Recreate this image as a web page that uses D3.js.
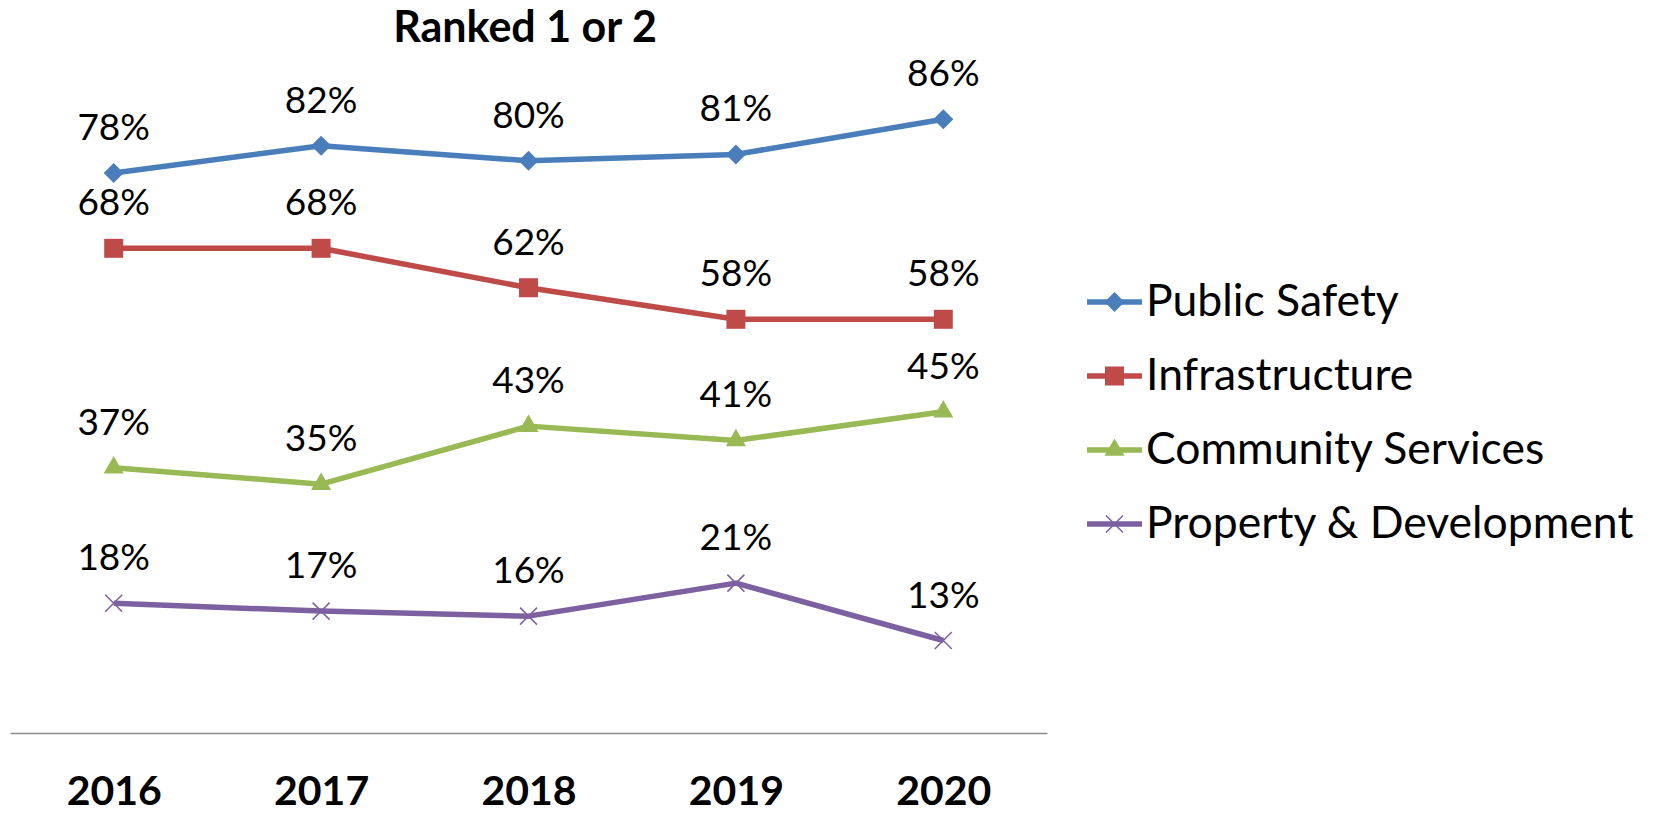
<!DOCTYPE html>
<html>
<head>
<meta charset="utf-8">
<script src="https://cdn.jsdelivr.net/npm/d3@7"></script>
<style>
  html, body { margin: 0; padding: 0; background: #fff; }
  svg { display: block; font-family: Lato, "Open Sans", sans-serif; }
</style>
</head>
<body>
<svg id="chart" width="1653" height="813"></svg>
<script>
// chart data
const years = ['2016', '2017', '2018', '2019', '2020'];
const seriesNames = ['Public Safety', 'Infrastructure', 'Community Services', 'Property & Development'];
const publicSafety = [78.1, 81.9, 79.8, 80.7, 85.6];
const infrastructure = [67.6, 67.6, 62.1, 57.7, 57.7];
const communityServices = [37.0, 34.7, 42.8, 40.8, 44.8];
const propertyDevelopment = [18.1, 17.0, 16.3, 20.9, 12.9];
const seriesColours = ['#4a7ebb', '#be4b48', '#98b954', '#7d60a0'];

const aSeries = [publicSafety, infrastructure, communityServices, propertyDevelopment]
  .map((aValues, i) => ({ sName: seriesNames[i], sColour: seriesColours[i], aValues, iIndex: i }));

const iWidth = 1653;
const iHeight = 813;
const oSvg = d3.select('#chart');

oSvg.append('rect').attr('width', iWidth).attr('height', iHeight).attr('fill', '#fff');

const x = d3.scalePoint().domain(years).range([10, 1047]).padding(0.5);
const y = d3.scaleLinear().domain([0, 100]).range([733, 16]);

// custom marker shapes (excel style)
const symDiamond = {
  draw(ctx, size) {
    const r = Math.sqrt(size) / 2;
    ctx.moveTo(0, -r); ctx.lineTo(r, 0); ctx.lineTo(0, r); ctx.lineTo(-r, 0); ctx.closePath();
  }
};
const symCross = {
  draw(ctx, size) {
    const r = Math.sqrt(size) / 2;
    ctx.moveTo(-r, -r); ctx.lineTo(r, r); ctx.moveTo(-r, r); ctx.lineTo(r, -r);
  }
};
const aMarkers = [
  { type: symDiamond, size: 20 * 20, fill: true },
  { type: d3.symbolSquare, size: 19 * 19, fill: true },
  { type: d3.symbolTriangle, size: 175, fill: true },
  { type: symCross, size: 17 * 17, fill: false }
];

// title
oSvg.append('text')
  .attr('x', 525)
  .attr('y', 42)
  .attr('text-anchor', 'middle')
  .attr('font-weight', 'bold')
  .attr('font-size', 43)
  .text('Ranked 1 or 2');

// x axis
const oAxisG = oSvg.append('g')
  .attr('transform', `translate(0, ${y(0)})`)
  .call(d3.axisBottom(x).tickSize(0).tickSizeOuter(0));
oAxisG.select('.domain').attr('stroke', '#8c8c8c').attr('stroke-width', 1.5);
oAxisG.selectAll('text')
  .attr('y', 72)
  .attr('dy', 0)
  .attr('fill', '#000')
  .attr('font-family', 'Lato, "Open Sans", sans-serif')
  .attr('font-weight', 'bold')
  .attr('font-size', 41);

// lines, markers and labels
const fnLine = d3.line().x((d, i) => x(years[i])).y(d => y(d));

const oSeriesG = oSvg.selectAll('g.series')
  .data(aSeries)
  .enter()
  .append('g')
  .attr('class', 'series');

oSeriesG.append('path')
  .attr('d', d => fnLine(d.aValues))
  .attr('fill', 'none')
  .attr('stroke', d => d.sColour)
  .attr('stroke-width', 5.5)
  .attr('stroke-linejoin', 'round');

oSeriesG.each(function (s) {
  const m = aMarkers[s.iIndex];
  const g = d3.select(this);
  g.selectAll('path.marker')
    .data(s.aValues)
    .enter()
    .append('path')
    .attr('class', 'marker')
    .attr('transform', (d, i) => `translate(${x(years[i])}, ${y(d)})`)
    .attr('d', d3.symbol().type(m.type).size(m.size))
    .attr('fill', m.fill ? s.sColour : 'none')
    .attr('stroke', m.fill ? 'none' : s.sColour)
    .attr('stroke-width', 1.5);

  g.selectAll('text.label')
    .data(s.aValues)
    .enter()
    .append('text')
    .attr('class', 'label')
    .attr('x', (d, i) => x(years[i]))
    .attr('y', d => y(d) - 33)
    .attr('text-anchor', 'middle')
    .attr('font-size', 37)
    .text(d => `${Math.round(d)}%`);
});

// legend
const oLegendG = oSvg.append('g').attr('transform', 'translate(1087, 302)');
const oLegendItem = oLegendG.selectAll('g')
  .data(aSeries)
  .enter()
  .append('g')
  .attr('transform', (d, i) => `translate(0, ${i * 74})`);

oLegendItem.append('line')
  .attr('x1', 0).attr('x2', 55)
  .attr('stroke', d => d.sColour)
  .attr('stroke-width', 5.5);

oLegendItem.append('path')
  .attr('transform', 'translate(27.5, 0)')
  .attr('d', d => d3.symbol().type(aMarkers[d.iIndex].type).size(aMarkers[d.iIndex].size)())
  .attr('fill', d => aMarkers[d.iIndex].fill ? d.sColour : 'none')
  .attr('stroke', d => aMarkers[d.iIndex].fill ? 'none' : d.sColour)
  .attr('stroke-width', 1.5);

oLegendItem.append('text')
  .attr('x', 59)
  .attr('y', 14)
  .attr('font-size', 44.5)
  .text(d => d.sName);
</script>
</body>
</html>
